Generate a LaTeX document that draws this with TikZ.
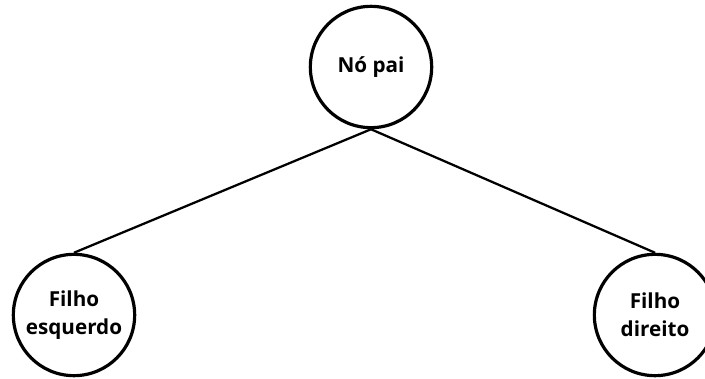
\documentclass[tikz,border=0pt]{standalone}
\usepackage{fontspec}
\setmainfont{Open Sans}
\begin{document}
\begin{tikzpicture}[x=0.75pt,y=-0.75pt,
  treenode/.style={draw, circle, line width=2.4pt, minimum size=91pt, inner sep=0pt, align=center, font=\fontsize{15.5}{21}\selectfont\bfseries},
  edge/.style={line width=1.7pt}]
\useasboundingbox (0,0) rectangle (705,378);
\node[treenode] (pai) at (371,67) {Nó pai};
\node[treenode] (esq) at (74,315) {Filho\\esquerdo};
\node[treenode] (dir) at (655,315) {Filho\\direito};
\draw[edge] (pai.south) -- (esq.north);
\draw[edge] (pai.south) -- (dir.north);
\end{tikzpicture}
\end{document}
